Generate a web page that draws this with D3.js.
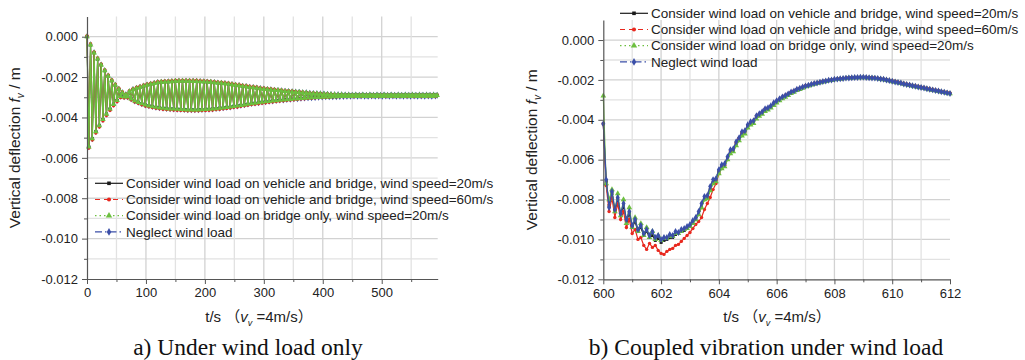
<!DOCTYPE html>
<html>
<head>
<meta charset="utf-8">
<script src="https://cdn.jsdelivr.net/npm/d3@7"></script>
<style>
  body { margin: 0; background: #fff; }
  svg { display: block; }
</style>
</head>
<body>
<svg id="chart" width="1025" height="360"></svg>
<script>
// ---- data (deflection values in mm) ----
var seriesNames = [
  "Consider wind load on vehicle and bridge, wind speed=20m/s",
  "Consider wind load on vehicle and bridge, wind speed=60m/s",
  "Consider wind load on bridge only, wind speed=20m/s",
  "Neglect wind load"
];

// panel a): samples every 3 s starting at t = 0
var leftT0 = 0, leftDt = 3;
var leftBoth20 = [
  0.0, -5.45, -0.4, -5.05, -0.8, -4.7, -1.1, -4.4, -1.4, -4.1,
  -1.68, -3.83, -1.95, -3.58, -2.18, -3.35, -2.4, -3.15, -2.6, -2.95,
  -2.78, -2.98, -2.88, -2.98, -2.72, -3.08, -2.62, -3.18, -2.55, -3.25,
  -2.5, -3.32, -2.44, -3.38, -2.39, -3.42, -2.35, -3.46, -2.31, -3.49,
  -2.27, -3.52, -2.25, -3.54, -2.24, -3.56, -2.23, -3.57, -2.22, -3.58,
  -2.2, -3.59, -2.2, -3.6, -2.2, -3.61, -2.2, -3.62, -2.2, -3.62,
  -2.21, -3.62, -2.21, -3.62, -2.22, -3.61, -2.23, -3.6, -2.24, -3.59,
  -2.25, -3.58, -2.27, -3.56, -2.29, -3.54, -2.3, -3.52, -2.32, -3.5,
  -2.34, -3.48, -2.37, -3.45, -2.4, -3.43, -2.42, -3.4, -2.45, -3.37,
  -2.47, -3.34, -2.5, -3.31, -2.52, -3.29, -2.54, -3.27, -2.57, -3.24,
  -2.59, -3.22, -2.61, -3.2, -2.63, -3.18, -2.65, -3.16, -2.66, -3.14,
  -2.68, -3.13, -2.7, -3.11, -2.71, -3.1, -2.73, -3.08, -2.74, -3.07,
  -2.75, -3.05, -2.77, -3.04, -2.78, -3.03, -2.8, -3.02, -2.81, -3.01,
  -2.82, -3.0, -2.83, -2.99, -2.84, -2.98, -2.85, -2.98, -2.86, -2.97,
  -2.87, -2.97, -2.88, -2.96, -2.88, -2.96, -2.89, -2.95, -2.89, -2.95,
  -2.9, -2.94, -2.89, -2.95, -2.9, -2.94, -2.89, -2.95, -2.9, -2.95,
  -2.89, -2.94, -2.9, -2.95, -2.89, -2.94, -2.9, -2.95, -2.89, -2.94,
  -2.9, -2.95, -2.89, -2.94, -2.9, -2.95, -2.89, -2.94, -2.9, -2.95,
  -2.89, -2.94, -2.9, -2.95, -2.89, -2.94, -2.9, -2.95, -2.89, -2.94,
  -2.9, -2.95, -2.89, -2.94, -2.9, -2.95, -2.89, -2.94, -2.9
];
var leftBoth60 = [
  0.05, -5.52, -0.35, -5.12, -0.75, -4.77, -1.05, -4.47, -1.35, -4.17,
  -1.63, -3.9, -1.9, -3.65, -2.13, -3.42, -2.35, -3.22, -2.55, -3.02,
  -2.73, -3.03, -2.83, -3.03, -2.67, -3.13, -2.57, -3.23, -2.5, -3.3,
  -2.45, -3.37, -2.39, -3.43, -2.34, -3.47, -2.3, -3.51, -2.26, -3.54,
  -2.22, -3.57, -2.2, -3.59, -2.19, -3.61, -2.18, -3.62, -2.17, -3.63,
  -2.15, -3.64, -2.15, -3.65, -2.15, -3.66, -2.15, -3.67, -2.15, -3.67,
  -2.16, -3.67, -2.16, -3.67, -2.17, -3.66, -2.18, -3.65, -2.19, -3.64,
  -2.2, -3.63, -2.22, -3.61, -2.24, -3.59, -2.25, -3.57, -2.27, -3.55,
  -2.29, -3.53, -2.32, -3.5, -2.35, -3.48, -2.37, -3.45, -2.4, -3.42,
  -2.42, -3.39, -2.45, -3.36, -2.47, -3.34, -2.49, -3.32, -2.52, -3.29,
  -2.54, -3.27, -2.56, -3.25, -2.58, -3.23, -2.6, -3.21, -2.62, -3.19,
  -2.64, -3.17, -2.66, -3.15, -2.67, -3.14, -2.69, -3.12, -2.71, -3.1,
  -2.72, -3.08, -2.74, -3.07, -2.76, -3.05, -2.78, -3.04, -2.79, -3.03,
  -2.8, -3.02, -2.81, -3.01, -2.83, -3.0, -2.84, -2.99, -2.85, -2.98,
  -2.86, -2.98, -2.87, -2.97, -2.87, -2.97, -2.88, -2.96, -2.88, -2.96,
  -2.88, -2.96, -2.89, -2.95, -2.88, -2.96, -2.89, -2.95, -2.88, -2.96,
  -2.88, -2.96, -2.89, -2.95, -2.88, -2.96, -2.89, -2.95, -2.88, -2.96,
  -2.88, -2.96, -2.89, -2.95, -2.88, -2.96, -2.89, -2.95, -2.88, -2.96,
  -2.88, -2.96, -2.89, -2.95, -2.88, -2.96, -2.89, -2.95, -2.88, -2.96,
  -2.89, -2.95, -2.88, -2.96, -2.89, -2.95, -2.88, -2.96, -2.89
];
// in panel a) these two cases sit on top of the 20 m/s curve
var leftBridge20 = leftBoth20;
var leftNeglect = leftBoth20;

// panel b): samples every 0.1 s starting at t = 600
var rightT0 = 600, rightDt = 0.1;
var rightBoth20 = [
  -4.2, -7.1, -8.3, -7.7, -8.6, -8.0, -8.8, -8.3, -9.1, -8.7,
  -9.4, -9.1, -9.6, -9.4, -9.8, -9.6, -9.9, -9.8, -10.05, -9.95,
  -10.15, -10.05, -10.0, -9.9, -9.9, -9.75, -9.7, -9.6, -9.55, -9.45,
  -9.35, -9.15, -9.0, -8.75, -8.35, -8.0, -7.9, -7.5, -7.15, -7.0,
  -6.6, -6.35, -6.25, -5.95, -5.6, -5.5, -5.2, -4.95, -4.7, -4.6,
  -4.3, -4.15, -4.1, -3.85, -3.75, -3.65, -3.5, -3.42, -3.33, -3.2,
  -3.08, -2.98, -2.88, -2.8, -2.72, -2.63, -2.57, -2.49, -2.44, -2.38,
  -2.31, -2.28, -2.23, -2.19, -2.16, -2.13, -2.09, -2.06, -2.03, -2.01,
  -1.98, -1.96, -1.95, -1.93, -1.92, -1.9, -1.89, -1.89, -1.88, -1.88,
  -1.87, -1.88, -1.89, -1.9, -1.92, -1.93, -1.95, -1.98, -2.0, -2.04,
  -2.07, -2.1, -2.14, -2.17, -2.2, -2.23, -2.27, -2.3, -2.33, -2.36,
  -2.39, -2.42, -2.45, -2.48, -2.51, -2.54, -2.57, -2.6, -2.63, -2.66,
  -2.69
];
var rightBoth60 = [
  -4.2, -7.3, -8.6, -7.9, -8.9, -8.2, -9.0, -8.6, -9.4, -9.0,
  -9.7, -9.5, -10.0, -9.9, -10.3, -10.5, -10.2, -10.4, -10.3, -10.55,
  -10.7, -10.75, -10.6, -10.5, -10.45, -10.3, -10.25, -10.1, -9.95, -9.8,
  -9.65, -9.45, -9.25, -9.1, -8.9, -8.5, -8.2, -7.9, -7.5, -7.2,
  -6.7, -6.4, -6.28, -5.92, -5.56, -5.5, -5.15, -4.92, -4.65, -4.57,
  -4.27, -4.12, -4.06, -3.81, -3.71, -3.61, -3.46, -3.4, -3.3, -3.16,
  -3.05, -2.95, -2.85, -2.77, -2.69, -2.6, -2.54, -2.46, -2.41, -2.35,
  -2.29, -2.26, -2.21, -2.17, -2.14, -2.1, -2.07, -2.04, -2.01, -1.99,
  -1.96, -1.94, -1.93, -1.91, -1.9, -1.89, -1.88, -1.87, -1.86, -1.86,
  -1.86, -1.86, -1.87, -1.88, -1.89, -1.91, -1.93, -1.95, -1.98, -2.01,
  -2.04, -2.07, -2.1, -2.14, -2.17, -2.2, -2.23, -2.26, -2.29, -2.32,
  -2.35, -2.38, -2.41, -2.44, -2.47, -2.5, -2.53, -2.56, -2.59, -2.62,
  -2.65
];
var rightBridge20 = [
  -2.8, -7.2, -8.0, -7.5, -8.6, -7.7, -8.8, -8.0, -9.2, -8.4,
  -9.4, -8.9, -9.6, -9.2, -9.8, -9.4, -9.9, -9.6, -10.0, -9.8,
  -10.05, -9.95, -9.95, -9.85, -9.85, -9.7, -9.7, -9.6, -9.5, -9.45,
  -9.35, -9.2, -9.0, -8.75, -8.4, -8.0, -7.95, -7.55, -7.2, -7.1,
  -6.7, -6.45, -6.35, -6.0, -5.7, -5.6, -5.3, -5.05, -4.8, -4.7,
  -4.4, -4.25, -4.18, -3.95, -3.82, -3.72, -3.58, -3.5, -3.4, -3.27,
  -3.15, -3.04, -2.94, -2.86, -2.77, -2.68, -2.61, -2.53, -2.47, -2.41,
  -2.34, -2.3, -2.25, -2.21, -2.17, -2.14, -2.1, -2.07, -2.04, -2.02,
  -1.99, -1.97, -1.95, -1.94, -1.92, -1.91, -1.9, -1.89, -1.89, -1.88,
  -1.88, -1.89, -1.9, -1.91, -1.92, -1.94, -1.96, -1.98, -2.01, -2.04,
  -2.08, -2.11, -2.14, -2.17, -2.21, -2.24, -2.27, -2.3, -2.33, -2.36,
  -2.39, -2.42, -2.45, -2.48, -2.51, -2.54, -2.57, -2.6, -2.63, -2.66,
  -2.69
];
var rightNeglect = [
  -4.2, -7.0, -8.4, -7.6, -8.5, -7.9, -8.7, -8.2, -9.0, -8.6,
  -9.3, -9.0, -9.5, -9.3, -9.7, -9.5, -9.8, -9.6, -9.9, -9.8,
  -10.0, -9.9, -9.9, -9.75, -9.8, -9.6, -9.65, -9.5, -9.45, -9.35,
  -9.25, -9.05, -8.9, -8.6, -8.2, -7.85, -7.8, -7.35, -7.0, -6.95,
  -6.5, -6.25, -6.2, -5.85, -5.5, -5.45, -5.1, -4.9, -4.6, -4.55,
  -4.25, -4.1, -4.05, -3.8, -3.7, -3.6, -3.45, -3.4, -3.3, -3.15,
  -3.05, -2.95, -2.85, -2.78, -2.7, -2.6, -2.55, -2.47, -2.42, -2.36,
  -2.3, -2.27, -2.22, -2.18, -2.15, -2.12, -2.08, -2.05, -2.02, -2.0,
  -1.97, -1.96, -1.94, -1.93, -1.91, -1.9, -1.89, -1.88, -1.88, -1.87,
  -1.87, -1.88, -1.89, -1.9, -1.91, -1.93, -1.95, -1.97, -2.0, -2.03,
  -2.07, -2.1, -2.13, -2.16, -2.2, -2.23, -2.26, -2.29, -2.32, -2.35,
  -2.38, -2.41, -2.44, -2.47, -2.5, -2.53, -2.56, -2.59, -2.62, -2.65,
  -2.68
];

// ticks
var yTicks = [0, -0.002, -0.004, -0.006, -0.008, -0.010, -0.012];
var yTickLabels = ["0.000", "-0.002", "-0.004", "-0.006", "-0.008", "-0.010", "-0.012"];
var yMinor = [-0.001, -0.003, -0.005, -0.007, -0.009, -0.011];
var leftXTicks = [0, 100, 200, 300, 400, 500];
var leftXMinor = [50, 150, 250, 350, 450, 550];
var rightXTicks = [600, 602, 604, 606, 608, 610, 612];
var rightXMinor = [601, 603, 605, 607, 609, 611];

// ---- style ----
var colors = ["#1a1a1a", "#e8281e", "#6cbf3f", "#3b4fa8"];
var symbols = [d3.symbolSquare, d3.symbolCircle, d3.symbolTriangle, d3.symbolDiamond];
var symSizes = [9, 9, 14, 14];
var dashes = [null, "5,4", "1.5,3", "7,3,1.5,3"];
var sansFont = "'Liberation Sans', Arial, 'Noto Sans CJK SC', sans-serif";

var svg = d3.select("#chart");

function panel(cfg) {
  var x = d3.scaleLinear().domain(cfg.xDomain).range(cfg.xRange);
  var y = d3.scaleLinear().domain([-0.012, 0.001]).range(cfg.yRange);
  var g = svg.append("g");

  // grid lines
  var yGrid = yTicks.concat(yMinor).filter(function(v) { return v > -0.012; });
  g.selectAll(".hgrid").data(yGrid).enter().append("line")
    .attr("x1", cfg.xRange[0]).attr("x2", cfg.xRange[1])
    .attr("y1", function(d) { return y(d); }).attr("y2", function(d) { return y(d); })
    .style("stroke", function(d) { return yTicks.indexOf(d) >= 0 ? "#d2d2d2" : "#e2e2e2"; })
    .style("stroke-width", "1.3px");
  var xGrid = cfg.xTicks.concat(cfg.xMinor).filter(function(v) {
    return v > cfg.xDomain[0] && v < cfg.xDomain[1];
  });
  g.selectAll(".vgrid").data(xGrid).enter().append("line")
    .attr("x1", function(d) { return x(d); }).attr("x2", function(d) { return x(d); })
    .attr("y1", cfg.yRange[0]).attr("y2", cfg.yRange[1])
    .style("stroke", function(d) { return cfg.xTicks.indexOf(d) >= 0 ? "#d2d2d2" : "#e2e2e2"; })
    .style("stroke-width", "1.3px");

  // series
  cfg.order.forEach(function(k) {
    var vals = cfg.series[k];
    var pts = vals.map(function(v, i) { return [cfg.t0 + i * cfg.dt, v / 1000]; });
    var line = d3.line().x(function(d) { return x(d[0]); }).y(function(d) { return y(d[1]); });
    g.append("path").datum(pts)
      .attr("d", line)
      .style("fill", "none")
      .style("stroke", colors[k])
      .style("stroke-width", cfg.lineWidth[k] + "px");
    var sym = d3.symbol().type(symbols[k]).size(symSizes[k]);
    g.selectAll(".m" + k).data(pts).enter().append("path")
      .attr("d", sym)
      .attr("transform", function(d) { return "translate(" + x(d[0]) + "," + y(d[1]) + ")"; })
      .style("fill", colors[k]);
  });

  // axes
  g.append("g").attr("transform", "translate(" + cfg.xRange[0] + ",0)")
    .call(d3.axisLeft(y).tickValues(yTicks).tickSizeInner(5).tickSizeOuter(0).tickPadding(4)
      .tickFormat(function(d, i) { return yTickLabels[i]; }));
  g.append("g").attr("transform", "translate(" + cfg.xRange[0] + ",0)")
    .call(d3.axisLeft(y).tickValues(yMinor).tickSize(3).tickFormat(""))
    .select(".domain").remove();
  g.append("g").attr("transform", "translate(0," + cfg.yRange[0] + ")")
    .call(d3.axisBottom(x).tickValues(cfg.xTicks).tickSizeInner(5).tickSizeOuter(0).tickPadding(4));
  g.append("g").attr("transform", "translate(0," + cfg.yRange[0] + ")")
    .call(d3.axisBottom(x).tickValues(cfg.xMinor).tickSize(3).tickFormat(""))
    .select(".domain").remove();

  g.selectAll(".domain").style("stroke", "#555").style("stroke-width", "1.2px");
  g.selectAll(".tick line").style("stroke", "#555");
  g.selectAll(".tick text").style("font-family", sansFont).style("font-size", "13px").style("fill", "#222");

  // y axis title
  var yt = g.append("text")
    .attr("transform", "translate(" + cfg.yTitleX + "," + ((cfg.yRange[0] + cfg.yRange[1]) / 2) + ") rotate(-90)")
    .attr("text-anchor", "middle")
    .style("font-family", sansFont).style("font-size", "15.5px").style("fill", "#222");
  yt.append("tspan").text("Vertical deflection ");
  yt.append("tspan").style("font-style", "italic").text("f");
  yt.append("tspan").style("font-style", "italic").style("font-size", "10px").attr("dy", 4).text("v");
  yt.append("tspan").attr("dy", -4).text(" / m");

  // x axis title
  var xt = g.append("text")
    .attr("x", cfg.xTitleX).attr("y", 322)
    .attr("text-anchor", "middle")
    .style("font-family", sansFont).style("font-size", "15px").style("fill", "#222");
  xt.append("tspan").text("t/s \uFF08");
  xt.append("tspan").style("font-style", "italic").text("v");
  xt.append("tspan").style("font-style", "italic").style("font-size", "9px").attr("dy", 4).text("v");
  xt.append("tspan").attr("dy", -4).text(" =4m/s\uFF09");

  // caption
  g.append("text")
    .attr("x", cfg.captionX).attr("y", 355)
    .attr("text-anchor", "middle")
    .style("font-family", "'Liberation Serif', 'Times New Roman', serif")
    .style("font-size", "23.5px").style("fill", "#111")
    .text(cfg.caption);

  // legend
  var lg = g.append("g");
  [0, 1, 2, 3].forEach(function(k) {
    var cy = cfg.legendY + k * 16.2;
    lg.append("line")
      .attr("x1", cfg.legendX).attr("x2", cfg.legendX + 28)
      .attr("y1", cy).attr("y2", cy)
      .style("stroke", colors[k]).style("stroke-width", "1.2px")
      .style("stroke-dasharray", dashes[k]);
    lg.append("path")
      .attr("d", d3.symbol().type(symbols[k]).size(symSizes[k] + 4))
      .attr("transform", "translate(" + (cfg.legendX + 14) + "," + cy + ")")
      .style("fill", colors[k]);
    lg.append("text")
      .attr("x", cfg.legendX + 31).attr("y", cy + 4.7)
      .style("font-family", sansFont).style("font-size", "13.5px").style("fill", "#222")
      .text(seriesNames[k]);
  });
}

panel({
  xDomain: [0, 595], xRange: [87, 437.7], yRange: [279, 16.5],
  xTicks: leftXTicks, xMinor: leftXMinor,
  t0: leftT0, dt: leftDt,
  series: [leftBoth20, leftBoth60, leftBridge20, leftNeglect],
  order: [3, 0, 1, 2], lineWidth: [1, 1, 1.3, 1],
  yTitleX: 20, xTitleX: 259, captionX: 248,
  caption: "a) Under wind load only",
  legendX: 95, legendY: 183.3
});

panel({
  xDomain: [600, 612], xRange: [603.3, 950], yRange: [279.3, 20.1],
  xTicks: rightXTicks, xMinor: rightXMinor,
  t0: rightT0, dt: rightDt,
  series: [rightBoth20, rightBoth60, rightBridge20, rightNeglect],
  order: [0, 1, 2, 3], lineWidth: [1.2, 1.2, 1.2, 1.3],
  yTitleX: 537, xTitleX: 777, captionX: 766,
  caption: "b) Coupled vibration under wind load",
  legendX: 620, legendY: 13.3
});
</script>
</body>
</html>
